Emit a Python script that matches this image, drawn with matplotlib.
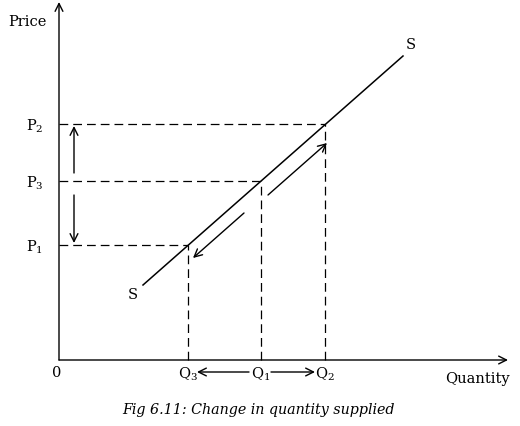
import matplotlib
matplotlib.use("Agg")
import matplotlib.pyplot as plt

plt.rcParams['font.family'] = ['DejaVu Serif']
plt.rcParams['mathtext.fontset'] = 'dejavuserif'

# quantities and prices (origin at 0, 0)
q_labels = ['Q$_3$', 'Q$_1$', 'Q$_2$']
q_values = [129, 202, 266]
p_labels = ['P$_1$', 'P$_3$', 'P$_2$']
p_values = [115, 179, 236]

# supply curve end points
supply_q = [84, 344]
supply_p = [75, 304]

# movement arrows along the supply curve (start, end)
move_up = [(209, 165), (268, 217)]
move_down = [(185, 147), (134, 102)]

fig = plt.figure(figsize=(5.2, 4.26), dpi=100)
ax = fig.add_axes([0, 0, 1, 1])
ax.set_xlim(-59, 461)
ax.set_ylim(-66, 360)
ax.axis('off')

arr = dict(arrowstyle='->', color='black', lw=1, mutation_scale=14,
           shrinkA=0, shrinkB=0)

# axes with arrows
ax.annotate('', xy=(0, 358), xytext=(0, 0), arrowprops=arr)
ax.annotate('', xy=(449, 0), xytext=(0, 0), arrowprops=arr)

# supply line
ax.plot(supply_q, supply_p, color='black', lw=1.1)
ax.text(supply_q[1] + 3, supply_p[1] + 4, 'S', fontsize=10.5, ha='left', va='bottom')
ax.text(supply_q[0] - 5, supply_p[0] - 3, 'S', fontsize=10.5, ha='right', va='top')

# dashed guides
dash = dict(color='black', lw=0.9, dashes=(7, 4))
for q, p in zip(q_values, p_values):
    ax.plot([0, q], [p, p], **dash)
    ax.plot([q, q], [0, p], **dash)

for lab, p in zip(p_labels, p_values):
    ax.text(-33, p - 2, lab, fontsize=10.5, ha='left', va='center')
for lab, q in zip(q_labels, q_values):
    ax.text(q, -14, lab, fontsize=10.5, ha='center', va='center')

# vertical arrows on price axis
ax.annotate('', xy=(15, p_values[2] - 2), xytext=(15, p_values[1] + 8), arrowprops=arr)
ax.annotate('', xy=(15, p_values[0] + 2), xytext=(15, p_values[1] - 14), arrowprops=arr)

# horizontal arrows on quantity axis
ax.annotate('', xy=(q_values[0] + 9, -12), xytext=(q_values[1] - 12, -12), arrowprops=arr)
ax.annotate('', xy=(q_values[2] - 10, -12), xytext=(q_values[1] + 10, -12), arrowprops=arr)

# movement along supply curve
ax.annotate('', xy=move_up[1], xytext=move_up[0], arrowprops=arr)
ax.annotate('', xy=move_down[1], xytext=move_down[0], arrowprops=arr)

ax.text(-51, 338, 'Price', fontsize=10.5, ha='left', va='center')
ax.text(-2, -13, '0', fontsize=10.5, ha='center', va='center')
ax.text(451, -19, 'Quantity', fontsize=10.5, ha='right', va='center')
ax.text(199, -50, 'Fig 6.11: Change in quantity supplied', fontsize=10.3,
        style='italic', ha='center', va='center')

plt.savefig('out.png', dpi=100)
